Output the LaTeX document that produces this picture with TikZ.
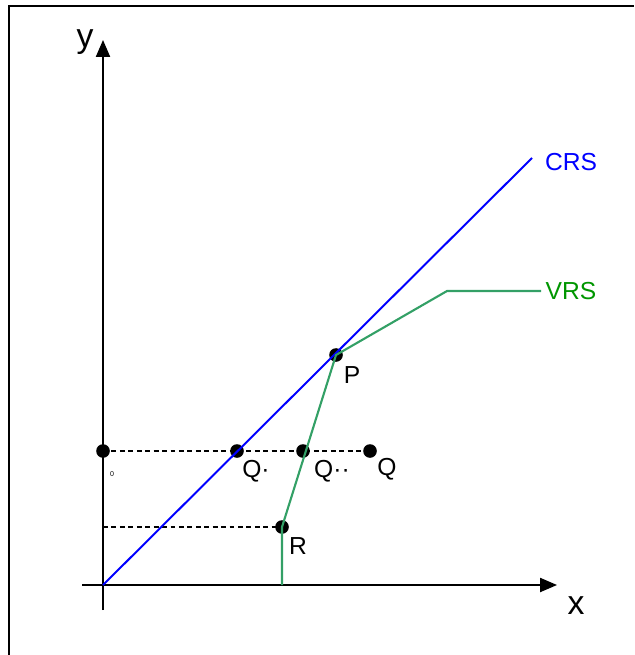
\documentclass[tikz,border=0pt]{standalone}
\usepackage{fontspec}
\setmainfont{Liberation Sans}
\usepackage{xcolor}
\usetikzlibrary{arrows.meta, positioning}

\definecolor{vrsline}{RGB}{51,160,102}
\definecolor{vrstext}{RGB}{0,150,0}

\begin{document}
\begin{tikzpicture}[x=0.025cm, y=-0.025cm,
    every node/.style={font=\fontsize{17.5}{20}\selectfont},
    dot/.style={circle, fill=black, inner sep=0pt, minimum size=0.34cm},
    axis/.style={line width=1.2pt, -{Triangle[length=12pt, width=10pt]}},
    guide/.style={line width=1.1pt, dash pattern=on 3.5pt off 2.5pt}]
  \useasboundingbox (0,0) rectangle (634,655);
  % frame (open to the right and bottom)
  \draw[line width=1.8pt] (9,655) -- (9,6) -- (634,6);

  % axes
  \coordinate (O) at (103,585);
  \coordinate (ybot) at (103,610);
  \coordinate (ytip) at (103,40);
  \coordinate (xbeg) at (82,585);
  \coordinate (xtip) at (557,585);
  \draw[axis] (ybot) -- (ytip);
  \draw[axis] (xbeg) -- (xtip);
  \node[font=\fontsize{24}{26}\selectfont] (ylab) at (85,42) {y};
  \node[font=\fontsize{24}{26}\selectfont] (xlab) at (576,606) {x};

  % points
  \node[dot] (Y0) at (103,451) {};
  \node[dot] (Q1) at (237,451) {};
  \node[dot] (Q2) at (303,451) {};
  \node[dot] (Q) at (370,451) {};
  \node[dot] (R) at (282,527) {};
  \node[dot] (P) at (336,355) {};
  \coordinate (Rfoot) at (282,585);
  \coordinate (Rleft) at (103,527);
  \coordinate (kink) at (447,291);
  \coordinate (vrsend) at (541,291);
  \coordinate (crsend) at (532,158);

  % dashed guides
  \draw[guide] (Y0.center) -- (Q.center);
  \draw[guide] (Rleft) -- (R.center);

  % frontiers
  \draw[blue, line width=1.4pt] (O) -- (crsend);
  \draw[vrsline, line width=1.5pt] (Rfoot) -- (R.center) -- (P.center)
    -- (kink) -- (vrsend);

  % labels
  \node[blue] (crs) at (571,162) {CRS};
  \node[vrstext] (vrs) at (571,291) {VRS};
  \node (lP) at (352,375) {P};
  \node (lR) at (298,546) {R};
  \node (lQ1) at (256,471) {Q·};
  \node (lQ2) at (332,471) {Q··};
  \node (lQ) at (387,469) {Q};
  \node[font=\fontsize{5}{6}\selectfont] (l0) at (112,474) {0};
\end{tikzpicture}
\end{document}
